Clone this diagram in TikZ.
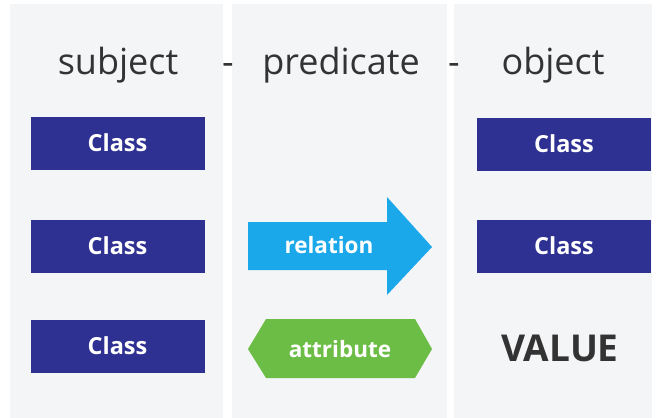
\documentclass[tikz,border=0pt]{standalone}
\usepackage{fontspec}
\setmainfont{Open Sans}
\definecolor{colbg}{HTML}{F4F5F7}
\definecolor{navy}{HTML}{2E3192}
\definecolor{relblue}{HTML}{1AA8EA}
\definecolor{attgreen}{HTML}{6CBD45}
\definecolor{txtgray}{HTML}{333333}
\begin{document}
\begin{tikzpicture}[x=1pt,y=-1pt,
  column/.style={fill=colbg, draw=none},
  classbox/.style={fill=navy, draw=none, minimum width=174pt, minimum height=53pt, inner sep=0pt,
    text=white, font=\fontsize{23.5}{26}\selectfont\bfseries},
  header/.style={text=txtgray, font=\fontsize{36}{40}\selectfont, anchor=base, inner sep=0pt},
  shapelabel/.style={text=white, font=\fontsize{22.5}{26}\selectfont\bfseries, inner sep=0pt}]
\useasboundingbox (0,0) rectangle (657,418);
\fill[white] (0,0) rectangle (657,418);
% columns
\fill[column] (10,4) rectangle (223,418);
\fill[column] (232,4) rectangle (447,418);
\fill[column] (454,4) rectangle (652,418);
% headers
\node[header] (hs) at (118,74) {subject};
\node[header] (d1) at (228,74) {-};
\node[header] (hp) at (341,74) {predicate};
\node[header] (d2) at (454,74) {-};
\node[header] (ho) at (553,74) {object};
% subject classes
\node[classbox] (s1) at (117.5,143) {Class};
\node[classbox] (s2) at (117.5,246) {Class};
\node[classbox] (s3) at (117.5,346) {Class};
% object classes
\node[classbox] (o1) at (564,144) {Class};
\node[classbox] (o2) at (564,246) {Class};
\node[text=txtgray, font=\fontsize{37}{40}\selectfont\bfseries, inner sep=0pt] (val) at (560,348) {VALUE};
% relation arrow
\fill[relblue] (248,222) -- (387,222) -- (387,197) -- (432,247) -- (387,295) -- (387,270) -- (248,270) -- cycle;
\node[shapelabel] (rel) at (329,245) {relation};
% attribute hexagon
\fill[attgreen] (248,349) -- (266,319) -- (415,319) -- (432,349) -- (415,378) -- (266,378) -- cycle;
\node[shapelabel] (att) at (340,349) {attribute};
\end{tikzpicture}
\end{document}
